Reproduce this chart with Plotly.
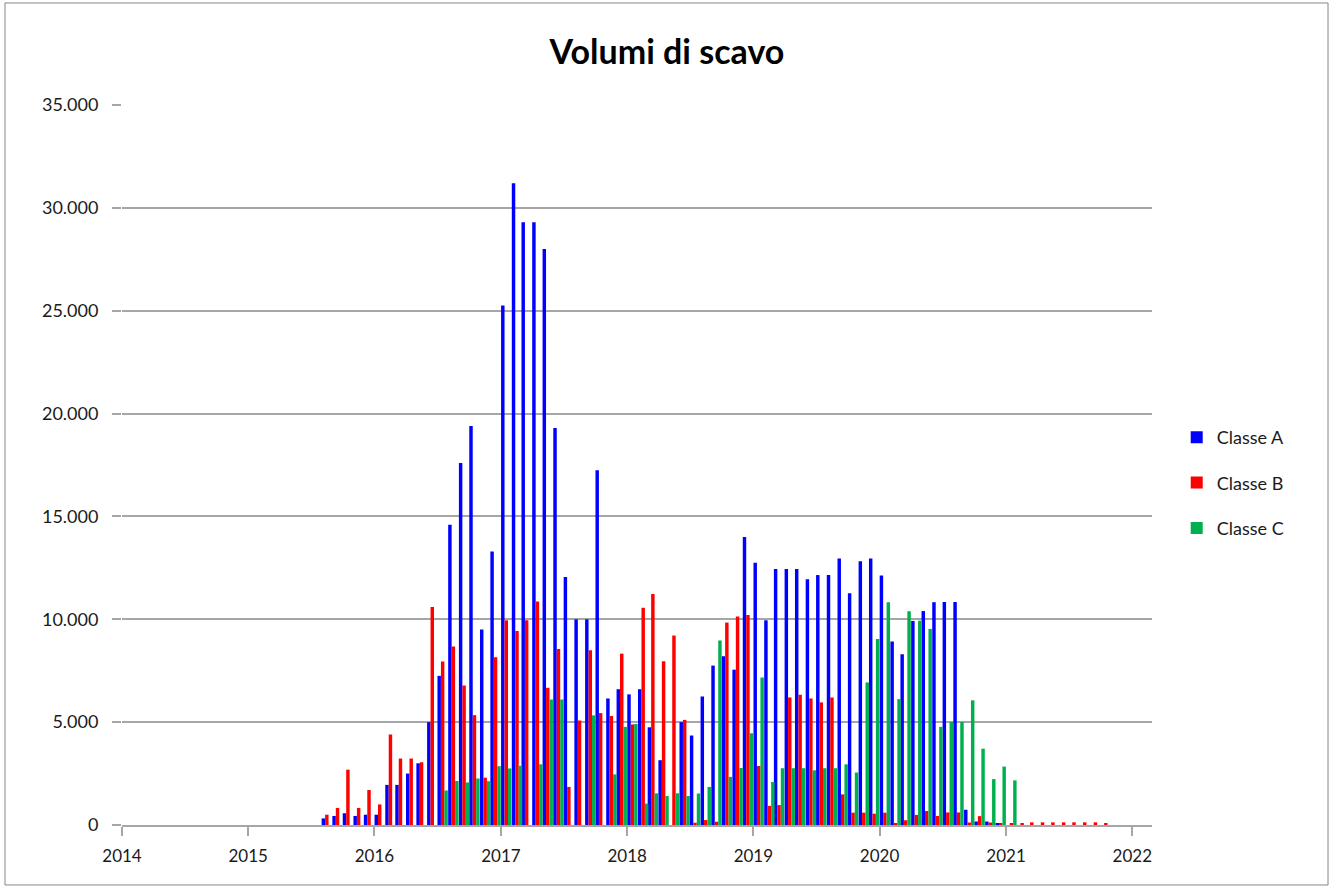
import plotly.graph_objects as go
import pandas as pd

# Monthly periods, Aug 2015 - Oct 2021
months = pd.date_range("2015-08-01", "2021-10-01", freq="MS").strftime("%Y-%m-%d").tolist()

classe_a = [320, 440, 570, 440, 500,
            500, 1950, 1950, 2500, 3000, 5000, 7250, 14600, 17600, 19400, 9500, 13300,
            25250, 31200, 29300, 29300, 28000, 19300, 12050, 10000, 10000, 17250, 6150, 6600,
            6350, 6600, 4750, 3150, 0, 5000, 4350, 6250, 7750, 8200, 7550, 14000,
            12750, 9950, 12450, 12450, 12450, 11950, 12150, 12150, 12950, 11270, 12820, 12950,
            12130, 8920, 8300, 9920, 10400, 10830, 10840, 10840, 740, 170, 170, 55,
            0, 0, 0, 0, 0, 0, 0, 0, 0, 0]

classe_b = [500, 830, 2690, 830, 1700,
            1000, 4400, 3230, 3230, 3050, 10600, 7950, 8680, 6780, 5340, 2300, 8150,
            9950, 9430, 9950, 10860, 6670, 8560, 1850, 5080, 8500, 5440, 5300, 8330,
            4890, 10560, 11230, 7960, 9210, 5110, 110, 240, 160, 9840, 10140, 10210,
            2870, 930, 970, 6200, 6330, 6150, 5960, 6200, 1490, 600, 600, 550,
            600, 50, 230, 490, 680, 440, 610, 610, 120, 430, 120, 55,
            55, 60, 130, 130, 130, 130, 130, 130, 130, 60]

classe_c = [0, 0, 0, 0, 0,
            0, 0, 0, 0, 0, 0, 1680, 2140, 2070, 2260, 2130, 2860,
            2750, 2880, 0, 2950, 6100, 6100, 0, 0, 5330, 0, 2460, 4770,
            4910, 1040, 1540, 1410, 1540, 1410, 1530, 1850, 8970, 2340, 2770, 4460,
            7170, 2090, 2760, 2760, 2760, 2660, 2760, 2760, 2950, 2550, 6930, 9040,
            10830, 6120, 10390, 9930, 9530, 4770, 5010, 5010, 6060, 3710, 2230, 2840,
            2170, 0, 0, 0, 0, 0, 0, 0, 0, 0]

series_names = ["Classe A", "Classe B", "Classe C"]
series_colors = ["#0000FF", "#FF0000", "#00B050"]

DAY = 86400000
bar_w = 10.0 * DAY
offsets = [0.4 * DAY, 10.4 * DAY, 20.4 * DAY]

fig = go.Figure()
for i, (name, vals, col) in enumerate(zip(series_names, [classe_a, classe_b, classe_c], series_colors)):
    fig.add_trace(go.Bar(
        x=months, y=vals, name=name,
        marker=dict(color=col, line=dict(width=0)),
        width=bar_w, offset=offsets[i],
        legendgroup=name,
    ))

fig.update_layout(
    barmode="overlay",
    width=1334, height=888,
    paper_bgcolor="white", plot_bgcolor="white",
    separators=",.",
    font=dict(family="Lato, 'Liberation Sans', sans-serif", color="#1a1a1a", size=17),
    title=dict(text="<b>Volumi di scavo</b>", x=0.5, xanchor="center", y=0.941, yanchor="middle",
               font=dict(size=34, color="black")),
    margin=dict(l=122, r=182, t=105, b=63),
    showlegend=True,
    legend=dict(x=1.024, y=0.475, xanchor="left", yanchor="middle",
                font=dict(size=18, color="#1a1a1a"), tracegroupgap=19,
                bgcolor="rgba(0,0,0,0)"),
    xaxis=dict(type="date", range=["2014-01-01", "2022-02-27"],
               dtick="M12", tick0="2014-01-01", tickformat="%Y",
               showgrid=False, showline=True, linecolor="#A6A6A6", linewidth=1.5,
               ticks="outside", ticklen=9, tickcolor="#A6A6A6", tickwidth=1.5,
               ticklabelstandoff=6,
               tickfont=dict(size=17, color="#1a1a1a"), zeroline=False),
    yaxis=dict(range=[0, 35000], dtick=5000, tickformat=",d",
               showgrid=True, gridcolor="#A6A6A6", gridwidth=1.5,
               showline=False, zeroline=False,
               ticks="outside", ticklen=9, tickcolor="#A6A6A6", tickwidth=1.5,
               ticklabelstandoff=10,
               tickfont=dict(size=18, color="#1a1a1a")),
)

fig.add_shape(type="rect", xref="paper", yref="paper",
              x0=-0.1136, x1=1.1709, y0=-0.0833, y1=1.1417,
              line=dict(color="#868686", width=1), fillcolor="rgba(0,0,0,0)", layer="below")

fig.write_html("out.html", config={"displayModeBar": False},
               post_script="document.body.style.margin='0px';")
